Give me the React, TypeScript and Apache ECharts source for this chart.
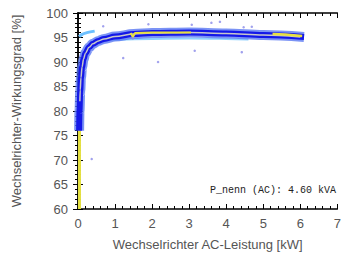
import React, { useEffect, useRef } from "react";
import * as echarts from "echarts";

// Dense measurement band (centre curve of the blue cloud)
const bandX = [0.03, 0.04, 0.06, 0.08, 0.11, 0.15, 0.2, 0.3, 0.4, 0.55, 0.7, 1.0, 1.5, 2.0, 3.0, 4.0, 5.0, 6.1];
const bandY = [76, 80, 84, 86.8, 89, 90.6, 91.8, 93, 93.7, 94.3, 94.7, 95.2, 95.7, 95.9, 96.0, 95.8, 95.5, 95.1];

// light-blue fringe below the band
const lowFringeX = [0.9, 2.0, 3.0, 4.0, 4.6];
const lowFringeY = [94.5, 94.7, 94.8, 94.7, 94.6];
// light-blue fringe at the upper left
const upFringeX = [0.03, 0.1, 0.2, 0.45];
const upFringeY = [95.2, 95.6, 95.9, 96.3];

// centre (median) curve
const midX = [0.05, 0.06, 0.08, 0.11, 0.15, 0.2, 0.3, 0.4, 0.55, 0.7, 1.0, 1.5, 2.0, 3.0, 4.0, 5.0, 6.0];
const midY = [82, 84.3, 86.8, 89, 90.6, 91.8, 93, 93.7, 94.3, 94.7, 95.2, 95.7, 95.9, 96.0, 95.8, 95.5, 95.1];

// yellow segments
const yel1X = [1.42, 1.48, 1.54, 2.0, 2.5, 3.05];
const yel1Y = [95.9, 95.1, 95.9, 96.0, 96.0, 96.0];
const yel2X = [5.25, 5.6, 6.05];
const yel2Y = [95.7, 95.6, 95.3];
const yel0X = [0.04, 0.04];
const yel0Y = [60, 77];

// scattered outliers
const outX = [0.37, 1.22, 2.16, 3.15, 4.42, 0.68, 1.9, 3.07, 3.83, 4.47, 4.69, 3.6, 1.48];
const outY = [70.2, 90.8, 90.0, 92.3, 92.0, 97.3, 97.7, 97.6, 98.2, 97.1, 97.2, 98.0, 94.8];

const xTicks = { min: 0, max: 7, interval: 1 };
const yTicks = { min: 60, max: 100, interval: 5 };

const pairs = (xs: number[], ys: number[]) => xs.map((x, i) => [x, ys[i]]);

export default function App() {
  const ref = useRef<HTMLDivElement>(null);
  useEffect(() => {
    if (!ref.current) return;
    const chart = echarts.init(ref.current, null, { renderer: "svg" });
    const font = "Liberation Sans, Arial, sans-serif";
    const tickStyle = { color: "#000", width: 1 };
    const baseX = {
      type: "value" as const,
      min: xTicks.min,
      max: xTicks.max,
      interval: xTicks.interval,
      splitLine: { show: false },
      axisLine: { show: true, lineStyle: { color: "#000", width: 1.5 } },
      axisTick: { show: true, inside: true, length: 5, lineStyle: tickStyle },
      minorTick: { show: true, splitNumber: 5, length: 3, lineStyle: tickStyle },
    };
    const baseY = {
      type: "value" as const,
      min: yTicks.min,
      max: yTicks.max,
      interval: yTicks.interval,
      splitLine: { show: false },
      axisLine: { show: true, lineStyle: { color: "#000", width: 1.5 } },
      axisTick: { show: true, inside: true, length: 5, lineStyle: tickStyle },
      minorTick: { show: true, splitNumber: 5, length: 3, lineStyle: tickStyle },
    };
    chart.setOption({
      animation: false,
      grid: { left: 78, right: 6, top: 13, bottom: 47 },
      xAxis: [
        {
          ...baseX,
          position: "bottom",
          name: "Wechselrichter AC-Leistung [kW]",
          nameLocation: "middle",
          nameGap: 29,
          nameTextStyle: { color: "#555", fontSize: 13, fontFamily: font },
          axisLabel: { color: "#555", fontSize: 13, fontFamily: font, margin: 8 },
        },
        { ...baseX, position: "top", axisLabel: { show: false } },
      ],
      yAxis: [
        {
          ...baseY,
          position: "left",
          name: "Wechselrichter-Wirkungsgrad [%]",
          nameLocation: "middle",
          nameGap: 55,
          nameTextStyle: { color: "#555", fontSize: 13, fontFamily: font },
          axisLabel: { color: "#555", fontSize: 13, fontFamily: font, margin: 10 },
        },
        { ...baseY, position: "right", axisLabel: { show: false } },
      ],
      series: [
        {
          type: "line",
          data: pairs(yel0X, yel0Y),
          symbol: "none",
          lineStyle: { color: "#e4e040", width: 3, cap: "butt" },
          z: 1,
        },
        {
          type: "line",
          data: pairs(lowFringeX, lowFringeY),
          symbol: "none",
          smooth: 0.3,
          lineStyle: { color: "#8fd0ff", width: 2 },
          z: 1,
        },
        {
          type: "line",
          data: pairs(bandX, bandY),
          symbol: "none",
          smooth: 0.35,
          smoothMonotone: "x",
          lineStyle: { color: "#5a78f2", width: 10, cap: "butt", opacity: 0.8 },
          z: 1,
        },
        {
          type: "line",
          data: pairs(upFringeX, upFringeY),
          symbol: "none",
          smooth: 0.3,
          lineStyle: { color: "#6cc0ff", width: 3 },
          z: 2,
        },
        {
          type: "line",
          data: pairs(bandX, bandY),
          symbol: "none",
          smooth: 0.35,
          smoothMonotone: "x",
          lineStyle: { color: "#1418e8", width: 6, cap: "butt" },
          z: 2,
        },
        {
          type: "line",
          data: pairs(midX, midY),
          symbol: "none",
          smooth: 0.35,
          smoothMonotone: "x",
          lineStyle: { color: "#c8c8c8", width: 1.5 },
          z: 3,
        },
        {
          type: "line",
          data: pairs(yel1X, yel1Y),
          symbol: "none",
          lineStyle: { color: "#e8e040", width: 2 },
          z: 4,
        },
        {
          type: "line",
          data: pairs(yel2X, yel2Y),
          symbol: "none",
          lineStyle: { color: "#e8e040", width: 2.5 },
          z: 4,
        },
        {
          type: "scatter",
          data: pairs(outX, outY),
          symbolSize: 2.5,
          itemStyle: { color: "#8a8ae8" },
          z: 5,
        },
      ],
      graphic: [
        {
          type: "text",
          right: 8,
          top: 185,
          style: {
            text: "P_nenn (AC): 4.60 kVA",
            font: "10px 'Liberation Mono', 'DejaVu Sans Mono', monospace",
            fill: "#222",
          },
        },
      ],
    });
    return () => chart.dispose();
  }, []);
  return (
    <div
      ref={ref}
      style={{ position: "fixed", left: 0, top: 0, width: 344, height: 256, background: "#fff" }}
    />
  );
}
